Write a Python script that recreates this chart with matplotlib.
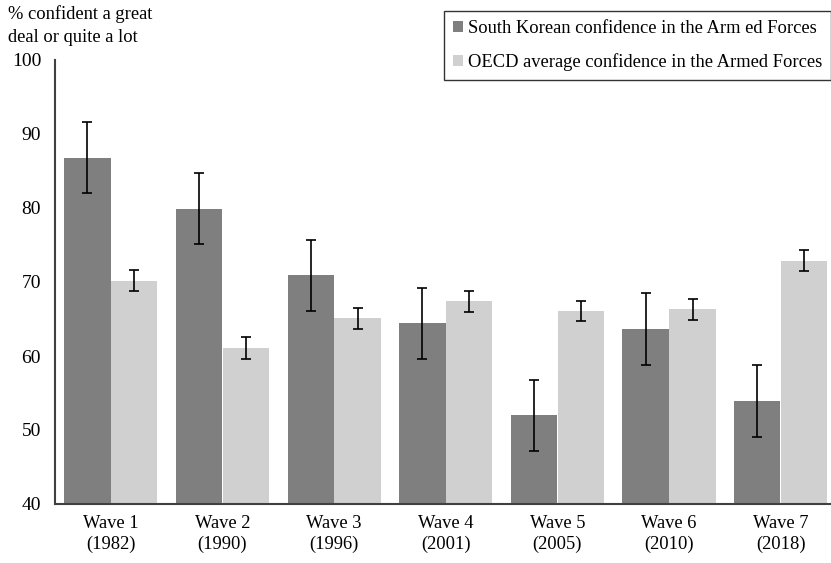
import numpy as np
import matplotlib.pyplot as plt

waves    = ["Wave 1\n(1982)", "Wave 2\n(1990)", "Wave 3\n(1996)", "Wave 4\n(2001)",
            "Wave 5\n(2005)", "Wave 6\n(2010)", "Wave 7\n(2018)"]
korea    = [86.8, 79.9, 70.9, 64.4, 52.0, 63.6, 53.9]
koreaErr = [4.8, 4.8, 4.8, 4.8, 4.8, 4.85, 4.85]
oecd     = [70.2, 61.1, 65.1, 67.4, 66.1, 66.3, 72.9]
oecdErr  = [1.45, 1.45, 1.45, 1.4, 1.4, 1.45, 1.45]

plt.rcParams['font.family'] = ['Liberation Serif', 'DejaVu Serif']
fontSize = 13.3

fig = plt.figure(figsize=(8.31, 5.63), dpi=100)
ax  = fig.add_axes([55/831, 59/563, 776/831, 444/563])

x     = np.arange(len(waves))
width = 0.415
errKw = dict(ecolor='black', capsize=3.5, elinewidth=1.2, capthick=1.2)

ax.bar(x - 0.21, korea, width, yerr=koreaErr, color='#7f7f7f', error_kw=errKw,
       label="South Korean confidence in the Arm ed Forces")
ax.bar(x + 0.21, oecd, width, yerr=oecdErr, color='#d0d0d0', error_kw=errKw,
       label="OECD average confidence in the Armed Forces")

ax.set_xlim(-0.5, 6.45)
ax.set_ylim(40, 100)
ax.set_yticks(range(40, 101, 10))
ax.set_xticks(x)
ax.set_xticklabels(waves, fontsize=fontSize, linespacing=1.3)
ax.tick_params(axis='y', length=0, pad=10, labelsize=fontSize + 0.7)
ax.tick_params(axis='x', length=0, pad=8)

for side in ["top", "right"]:
    ax.spines[side].set_visible(False)
for side in ["left", "bottom"]:
    ax.spines[side].set_color('#404040')
    ax.spines[side].set_linewidth(1.5)

fig.text(8/831, 1 - 5/563, "% confident a great\ndeal or quite a lot",
         ha='left', va='top', fontsize=fontSize, linespacing=1.45)

leg = ax.legend(loc='upper right', bbox_to_anchor=(1.0, 1.11), fontsize=fontSize,
                frameon=True, fancybox=False, handlelength=0.55, handleheight=0.55,
                handletextpad=0.25, borderpad=0.5, labelspacing=0.85,
                borderaxespad=0.0)
leg.get_frame().set_edgecolor('black')
leg.get_frame().set_linewidth(1.0)

fig.savefig("out.png", dpi=100)
